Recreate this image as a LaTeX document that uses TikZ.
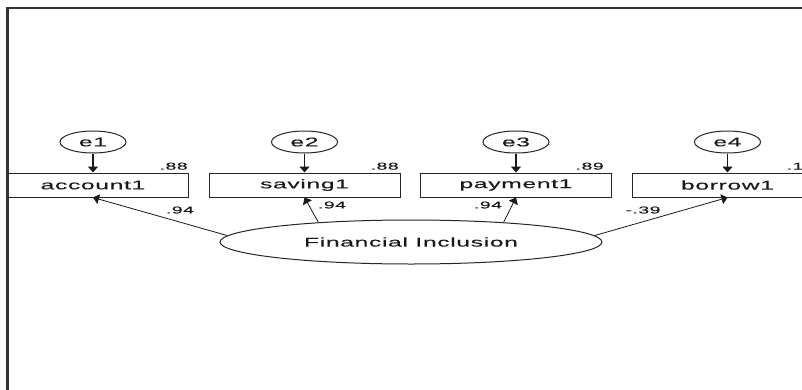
\documentclass[tikz,border=0pt]{standalone}
\usepackage{fontspec}
\usepackage{tikz}
\usetikzlibrary{arrows.meta,shapes.geometric}
\newfontfamily\amosfont[FakeStretch=1.95,LetterSpace=5,FakeBold=0.15]{Liberation Sans}

\begin{document}
\begin{tikzpicture}[x=0.75pt,y=-0.75pt,
    obs/.style={draw=black!85, line width=0.75pt, minimum width=143.25pt,
      minimum height=18pt, inner sep=0pt, text=black!90,
      font=\amosfont\fontsize{9.5}{11}\selectfont},
    err/.style={ellipse, draw=black!85, line width=0.75pt, minimum width=49.5pt,
      minimum height=16.5pt, inner sep=0pt, text=black!90,
      font=\amosfont\fontsize{9.5}{11}\selectfont},
    lat/.style={ellipse, draw=black!85, line width=0.75pt, minimum width=286.5pt,
      minimum height=33pt, inner sep=0pt, text=black!90,
      font=\amosfont\fontsize{9.5}{11}\selectfont},
    coef/.style={inner sep=0pt, text=black!90,
      font=\amosfont\fontsize{7.5}{8}\selectfont},
    errarrow/.style={-{Triangle[length=4.5pt,width=7.5pt]}, line width=1.1pt, black!90},
    loadarrow/.style={-{Triangle[length=4.5pt,width=7.5pt]}, line width=0.6pt, black!90}]
        \useasboundingbox (0,0) rectangle (802,389);
        \fill[white] (0,0) rectangle (802,389);
        % frame
        \draw[black!80, line width=1.6pt] (7.5,400) -- (7.5,8) -- (820,8);
        \clip (8.5,9) rectangle (802,389);
        % errors
        \node[err] (e1) at (93,142) {e1};
        \node[err] (e2) at (304.5,142) {e2};
        \node[err] (e3) at (516,142) {e3};
        \node[err] (e4) at (727.5,142) {e4};
        % observed variables
        \node[obs] (account1) at (93,185) {account1};
        \node[obs] (saving1) at (304.5,185) {saving1};
        \node[obs] (payment1) at (516,185) {payment1};
        \node[obs] (borrow1) at (727.5,185) {borrow1};
        % latent variable
        \node[lat] (FI) at (411,242) {Financial Inclusion};
        % error paths
        \draw[errarrow] (e1) -- (account1);
        \draw[errarrow] (e2) -- (saving1);
        \draw[errarrow] (e3) -- (payment1);
        \draw[errarrow] (e4) -- (borrow1);
        % loadings
        \draw[loadarrow] (FI.178) -- (account1.south);
        \draw[loadarrow] (FI.168) -- (saving1.south);
        \draw[loadarrow] (FI.12) -- (payment1.south);
        \draw[loadarrow] (FI.2) -- (borrow1.south);
        \node[coef] (l1) at (180,210) {.94};
        \node[coef] (l2) at (332,205) {.94};
        \node[coef] (l3) at (488,205) {.94};
        \node[coef] (l4) at (643,210) {-.39};
        % squared multiple correlations
        \node[coef, anchor=south east] (r1) at (188,170) {.88};
        \node[coef, anchor=south east] (r2) at (399,170) {.88};
        \node[coef, anchor=south east] (r3) at (604,170) {.89};
        \node[coef, anchor=south east] (r4) at (815,170) {.15};
\end{tikzpicture}
\end{document}
